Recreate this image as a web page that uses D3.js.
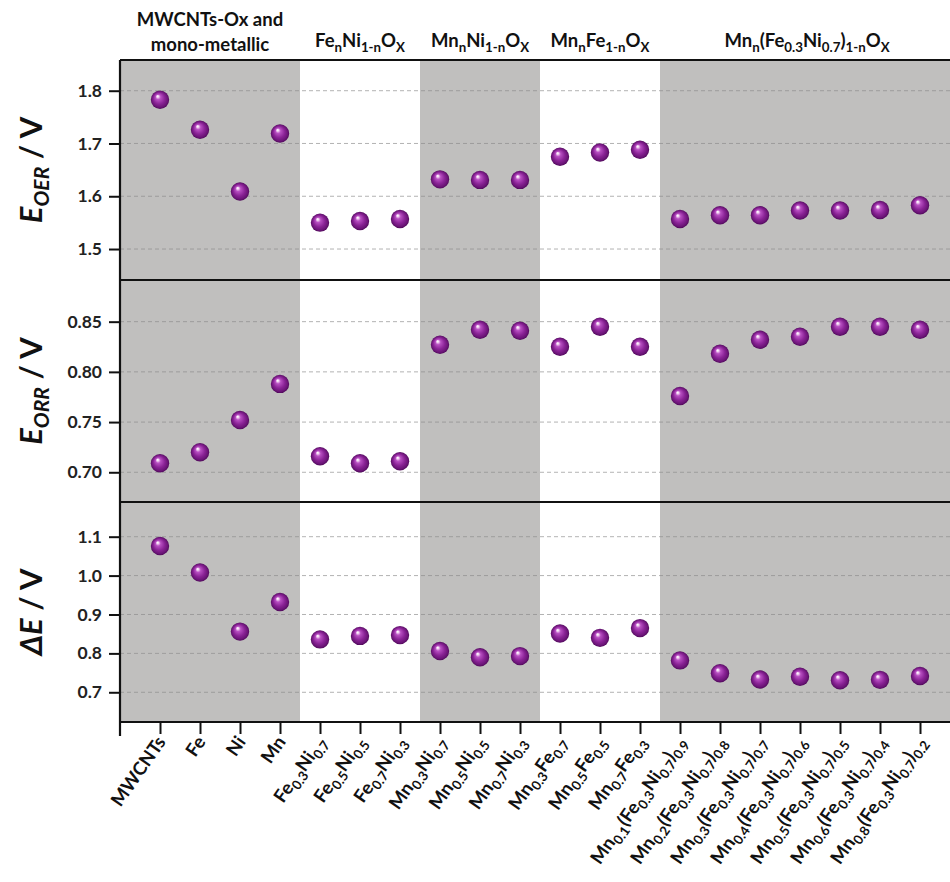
<!DOCTYPE html>
<html>
<head>
<meta charset="utf-8">
<script src="https://cdn.jsdelivr.net/npm/d3@7/dist/d3.min.js"></script>
<style>
  html, body { margin: 0; padding: 0; background: #fff; }
  svg { display: block; font-family: Lato, "Open Sans", sans-serif; }
</style>
</head>
<body>
<svg id="chart" width="950" height="882"></svg>
<script>
// Sample labels (markup: _{...} marks a subscript)
const categories = [
  "MWCNTs", "Fe", "Ni", "Mn",
  "Fe_{0.3}Ni_{0.7}", "Fe_{0.5}Ni_{0.5}", "Fe_{0.7}Ni_{0.3}",
  "Mn_{0.3}Ni_{0.7}", "Mn_{0.5}Ni_{0.5}", "Mn_{0.7}Ni_{0.3}",
  "Mn_{0.3}Fe_{0.7}", "Mn_{0.5}Fe_{0.5}", "Mn_{0.7}Fe_{0.3}",
  "Mn_{0.1}(Fe_{0.3}Ni_{0.7})_{0.9}", "Mn_{0.2}(Fe_{0.3}Ni_{0.7})_{0.8}",
  "Mn_{0.3}(Fe_{0.3}Ni_{0.7})_{0.7}", "Mn_{0.4}(Fe_{0.3}Ni_{0.7})_{0.6}",
  "Mn_{0.5}(Fe_{0.3}Ni_{0.7})_{0.5}", "Mn_{0.6}(Fe_{0.3}Ni_{0.7})_{0.4}",
  "Mn_{0.8}(Fe_{0.3}Ni_{0.7})_{0.2}"
];

// Sample families: title lines, index of first and last member, shaded or not
const groupTitles = [
  ["MWCNTs-Ox and", "mono-metallic"],
  ["Fe_{n}Ni_{1-n}O_{X}"],
  ["Mn_{n}Ni_{1-n}O_{X}"],
  ["Mn_{n}Fe_{1-n}O_{X}"],
  ["Mn_{n}(Fe_{0.3}Ni_{0.7})_{1-n}O_{X}"]
];
const groupStart = [0, 4, 7, 10, 13];
const groupEnd   = [3, 6, 9, 12, 19];
const groupShaded = [true, false, true, false, true];

// Measured potentials (V)
const oerValues = [1.783, 1.726, 1.609, 1.719, 1.550, 1.553, 1.557, 1.632, 1.631, 1.631,
                   1.675, 1.683, 1.688, 1.557, 1.564, 1.564, 1.573, 1.573, 1.574, 1.583];
const orrValues = [0.709, 0.720, 0.752, 0.788, 0.716, 0.709, 0.711, 0.827, 0.842, 0.841,
                   0.825, 0.845, 0.825, 0.776, 0.818, 0.832, 0.835, 0.845, 0.845, 0.842];
const deltaValues = [1.076, 1.008, 0.856, 0.932, 0.836, 0.845, 0.847, 0.806, 0.790, 0.793,
                     0.851, 0.840, 0.865, 0.782, 0.749, 0.733, 0.740, 0.731, 0.732, 0.742];

// Axis ticks and extents per panel
const oerTicks = [1.5, 1.6, 1.7, 1.8];
const orrTicks = [0.70, 0.75, 0.80, 0.85];
const deltaTicks = [0.7, 0.8, 0.9, 1.0, 1.1];
const oerDomain = [1.4413, 1.8582];
const orrDomain = [0.6704, 0.8915];
const deltaDomain = [0.6236, 1.1892];

const svg = d3.select("#chart");
const left = 120, right = 960;
const plotTop = 60, plotBottom = 722;

const panels = [
  { values: oerValues, ticks: oerTicks, domain: oerDomain, top: 60, bottom: 280, fmt: d3.format(".1f"),
    label: [{t: "E", it: true}, {t: "OER", it: true, sub: true}, {t: " / V"}] },
  { values: orrValues, ticks: orrTicks, domain: orrDomain, top: 280, bottom: 502, fmt: d3.format(".2f"),
    label: [{t: "E", it: true}, {t: "ORR", it: true, sub: true}, {t: " / V"}] },
  { values: deltaValues, ticks: deltaTicks, domain: deltaDomain, top: 502, bottom: 722, fmt: d3.format(".1f"),
    label: [{t: "\u0394E", it: true}, {t: " / V"}] }
];

const x = d3.scalePoint().domain(d3.range(categories.length)).range([left, right]).padding(1);
const step = x.step();

// Split "_{...}" markup into plain / subscript runs
function parseMarkup(s) {
  const out = [];
  const re = /_\{([^}]*)\}/g;
  let last = 0, m;
  while ((m = re.exec(s)) !== null) {
    if (m.index > last) out.push({ t: s.slice(last, m.index), sub: false });
    out.push({ t: m[1], sub: true });
    last = re.lastIndex;
  }
  if (last < s.length) out.push({ t: s.slice(last), sub: false });
  return out;
}

function writeRuns(textSel, runs, subScale, subShift) {
  let inSub = false;
  runs.forEach(r => {
    const ts = textSel.append("tspan").text(r.t);
    if (r.sub) ts.attr("font-size", (subScale * 100) + "%");
    if (r.it) ts.attr("font-style", "italic");
    if (r.sub && !inSub) ts.attr("dy", subShift);
    if (!r.sub && inSub) ts.attr("dy", -subShift);
    inSub = !!r.sub;
  });
}

const defs = svg.append("defs");
const grad = defs.append("radialGradient").attr("id", "sphere")
  .attr("cx", "50%").attr("cy", "50%").attr("r", "50%")
  .attr("fx", "36%").attr("fy", "30%");
[[0, "#ffffff"], [0.1, "#f6dcf6"], [0.28, "#b850c2"], [0.62, "#8a2396"], [0.88, "#6a1476"], [1, "#50095a"]]
  .forEach(([o, c]) => grad.append("stop").attr("offset", o).attr("stop-color", c));

// Shaded bands for alternating sample families
groupStart.forEach((s, i) => {
  if (!groupShaded[i]) return;
  const x0 = s === 0 ? left : x(s) - step / 2;
  const x1 = groupEnd[i] === categories.length - 1 ? right : x(groupEnd[i]) + step / 2;
  svg.append("rect").attr("x", x0).attr("y", plotTop).attr("width", x1 - x0)
    .attr("height", plotBottom - plotTop).attr("fill", "#c0bfbe");
});

// Panels
panels.forEach(p => {
  const y = d3.scaleLinear().domain(p.domain).range([p.bottom, p.top]);

  svg.append("g").selectAll("line").data(p.ticks).join("line")
    .attr("x1", left).attr("x2", right)
    .attr("y1", d => y(d)).attr("y2", d => y(d))
    .attr("stroke", "#8a8a8a").attr("stroke-opacity", 0.65)
    .attr("stroke-width", 1).attr("stroke-dasharray", "4,3");

  const ax = svg.append("g").attr("transform", `translate(${left},0)`)
    .call(d3.axisLeft(y).tickValues(p.ticks).tickFormat(p.fmt).tickSize(11).tickSizeOuter(0).tickPadding(7));
  ax.select(".domain").remove();
  ax.selectAll(".tick line").attr("stroke", "#111").attr("stroke-width", 2);
  ax.selectAll(".tick text").attr("font-size", 17.5).attr("font-weight", 700)
    .attr("fill", "#222").attr("font-family", "Lato, sans-serif");

  svg.append("g").selectAll("circle").data(p.values).join("circle")
    .attr("cx", (d, i) => x(i)).attr("cy", d => y(d)).attr("r", 9.2)
    .attr("fill", "url(#sphere)");

  const cy = (p.top + p.bottom) / 2;
  const lab = svg.append("text")
    .attr("transform", `translate(42,${cy}) rotate(-90)`)
    .attr("text-anchor", "middle").attr("font-size", 31).attr("font-weight", 700).attr("fill", "#111");
  writeRuns(lab, p.label, 0.68, 7);
});

// Frame lines
[60, 280, 502, 722].forEach(yy => {
  svg.append("line").attr("x1", left).attr("x2", right).attr("y1", yy).attr("y2", yy)
    .attr("stroke", "#111").attr("stroke-width", 2.2);
});
svg.append("line").attr("x1", left).attr("x2", left).attr("y1", plotTop).attr("y2", 736)
  .attr("stroke", "#111").attr("stroke-width", 2.2);

// Category axis
const xAxis = svg.append("g").attr("transform", `translate(0,${plotBottom})`)
  .call(d3.axisBottom(x).tickSize(12).tickSizeOuter(0).tickFormat(""));
xAxis.select(".domain").remove();
xAxis.selectAll(".tick line").attr("stroke", "#111").attr("stroke-width", 2);
xAxis.selectAll(".tick").each(function (d) {
  const t = d3.select(this).append("text")
    .attr("transform", "translate(6,20) rotate(-55)")
    .attr("text-anchor", "end").attr("font-size", 18.5).attr("font-weight", 700)
    .attr("fill", "#111").attr("font-family", "Lato, sans-serif");
  writeRuns(t, parseMarkup(categories[d]), 0.72, 5);
});

// Family titles
groupTitles.forEach((lines, i) => {
  const cx = ((groupStart[i] === 0 ? left : x(groupStart[i]) - step / 2) +
              (groupEnd[i] === categories.length - 1 ? right - 6 : x(groupEnd[i]) + step / 2)) / 2;
  lines.forEach((ln, j) => {
    const baseY = lines.length === 1 ? 47 : 26 + j * 25;
    const t = svg.append("text").attr("x", cx).attr("y", baseY)
      .attr("text-anchor", "middle").attr("font-size", 18.5).attr("font-weight", 700).attr("fill", "#111");
    writeRuns(t, parseMarkup(ln), 0.72, 5);
  });
});
</script>
</body>
</html>
